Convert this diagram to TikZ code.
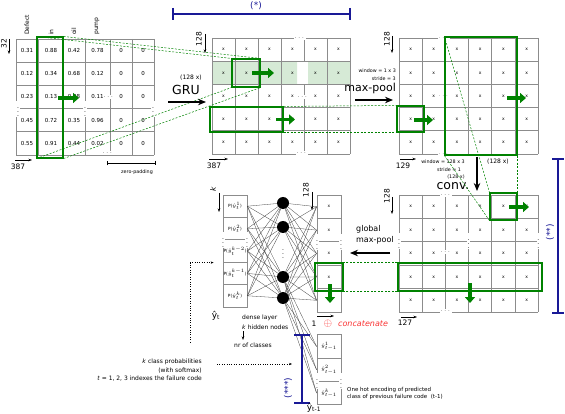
\documentclass[tikz,border=0pt]{standalone}
\usepackage{fontspec}
\setmainfont{DejaVu Sans}
\usepackage{amsmath}
\usetikzlibrary{arrows.meta}
\definecolor{boxgreen}{RGB}{0,130,0}
\definecolor{rowshade}{RGB}{214,234,214}
\definecolor{brkblue}{RGB}{25,25,150}
\definecolor{catred}{RGB}{250,50,50}

\begin{document}
\begin{tikzpicture}[x=1pt,y=-1pt,
  gridline/.style={draw=black!45,line width=0.8pt},
  vcell/.style={draw=black!45,line width=0.8pt,minimum width=24pt,inner sep=0pt,font=\fontsize{4.3}{4.3}\selectfont},
  val/.style={font=\fontsize{5.5}{5.5}\selectfont,inner sep=0pt},
  xcell/.style={font=\fontsize{4.5}{4.5}\selectfont,inner sep=0pt},
  colhead/.style={font=\fontsize{6}{6}\selectfont,rotate=90,anchor=west,inner sep=0pt},
  dimlabel/.style={font=\fontsize{7.5}{7.5}\selectfont,inner sep=0pt},
  dimarrow/.style={-{Stealth[length=3.5pt,width=2.5pt]},line width=0.5pt},
  gapdots/.style={fill=white,inner sep=0.6pt,font=\fontsize{6}{6}\selectfont},
  selbox/.style={draw=boxgreen,line width=1.1pt,inner sep=0pt},
  proj/.style={draw=boxgreen,line width=0.5pt,dash pattern=on 2pt off 1.5pt},
  slide/.style={boxgreen,line width=3.8pt,-{Triangle[length=6pt,width=10pt]}},
  opname/.style={font=\fontsize{12.5}{12.5}\selectfont,inner sep=0pt},
  opnote/.style={font=\fontsize{4.8}{4.8}\selectfont,inner sep=0pt},
  oparrow/.style={line width=1.3pt,-{Stealth[length=8pt,width=6.5pt]}},
  neuron/.style={circle,fill=black,minimum size=12pt,inner sep=0pt},
  wire/.style={line width=0.3pt,black!75},
  bracket/.style={brkblue,line width=1.1pt},
  bracelabel/.style={brkblue,font=\fontsize{9}{9}\selectfont,inner sep=0pt},
  notetext/.style={font=\fontsize{6}{8.5}\selectfont,inner sep=0pt}]
\useasboundingbox (0,0) rectangle (565,414);

% input table
\foreach \y in {39,62.2,85.4,108.6,131.8,155}
  \draw[gridline] (16,\y) -- (154,\y);
\foreach \x in {16,38,63,85,110,132,154}
  \draw[gridline] (\x,39) -- (\x,155);
\foreach \x/\h [count=\i] in {27/Defect,51/in,74/oil,97/pump}
  \node[colhead] (head-\i) at (\x,35) {\h};
\foreach \a/\b/\c/\d [count=\r] in %
{0.31/0.88/0.42/0.78,0.12/0.34/0.68/0.12,0.23/0.13/0.48/0.11,0.45/0.72/0.35/0.96,0.55/0.91/0.44/0.02} {
  \node[val] (in-\r-1) at (27,27.4+23.2*\r) {\a};
  \node[val] (in-\r-2) at (51,27.4+23.2*\r) {\b};
  \node[val] (in-\r-3) at (74,27.4+23.2*\r) {\c};
  \node[val] (in-\r-4) at (97.5,27.4+23.2*\r) {\d};
  \node[val] (in-\r-5) at (121,27.4+23.2*\r) {0};
  \node[val] (in-\r-6) at (143,27.4+23.2*\r) {0};
}
\node[gapdots,inner sep=0.3pt] (in-hd-1) at (109,97) {$\cdots$};
\node[gapdots] (in-hd-2) at (108,153) {$\cdots$};
\foreach \x in {18,85,153}
  \node[gapdots] (in-vd-\x) at (\x,109) {$\vdots$};
\node[selbox,minimum width=26pt,minimum height=121pt] (insel) at (50,97.5) {};
\draw[slide] (58,98) -- (79,98);
\node[dimlabel,rotate=90] (rows-in) at (4,44) {32};
\draw[dimarrow] (9,39) -- (9,54);
\node[dimlabel] (len-in) at (18,167) {387};
\draw[dimarrow] (15,160) -- (32,160);
\draw[line width=0.4pt,|-|] (107,163) -- (155,163);
\node[opnote] (zpad) at (137,172) {zero-padding};

% GRU output
\fill[rowshade] (212,61.2) rectangle (297,84.4) (308,61.2) rectangle (350,84.4);
\foreach \y in {38,61.2,84.4,107.6,130.8,154}
  \draw[gridline] (212,\y) -- (350,\y);
\foreach \x in {212,235,258,281,304,327,350}
  \draw[gridline] (\x,38) -- (\x,154);
\fill[white] (298,62) rectangle (307,83.6);
\foreach \c in {0,...,5}
  \foreach \r in {0,...,4}
    \node[xcell] (gru-\c-\r) at (223.5+23*\c,49.6+23.2*\r) {x};
\node[gapdots] (gru-d1) at (300,38) {$\cdots$};
\node[gapdots] (gru-d2) at (303,97) {$\cdots$};
\node[gapdots] (gru-d3) at (302,153) {$\cdots$};
\node[selbox,minimum width=28pt,minimum height=28pt] (grusel) at (246,73) {};
\node[selbox,minimum width=73pt,minimum height=25pt] (grulow) at (246.5,119.5) {};
\draw[slide] (252,73) -- (274,73);
\draw[slide] (276,119.5) -- (295,119.5);
\draw[proj] (insel.north west) -- (grusel.north west);
\draw[proj] (insel.north east) -- (grusel.north east);
\draw[proj] (insel.south west) -- (grusel.south west);
\draw[proj] (insel.south east) -- (grusel.south east);
\node[dimlabel,rotate=90] (rows-gru) at (199,39) {128};
\draw[dimarrow] (205,34) -- (205,53);
\node[dimlabel] (len-gru) at (214,166) {387};
\draw[dimarrow] (209,159) -- (228,159);
\node[font=\fontsize{6}{6}\selectfont,inner sep=0pt] (gru-units) at (191,78) {(128 x)};
\node[opname] (gru-op) at (186,90) {GRU};
\draw[oparrow] (168,102) -- (206,102);
\draw[bracket] (173,8) -- (173,20) (173,14) -- (350,14) (350,8) -- (350,20);
\node[bracelabel] (star-1) at (256,6) {(*)};

% max-pool output
\node[opnote,anchor=east] (mp-win) at (396,71) {window = 1 x 3};
\node[opnote,anchor=east] (mp-stride) at (396,79) {stride = 3};
\node[opname,anchor=east,font=\fontsize{11}{11}\selectfont] (mp-op) at (396,88) {max-pool};
\draw[oparrow] (355,100) -- (393,100);
\foreach \y in {38,61.2,84.4,107.6,130.8,154}
  \draw[gridline] (399,\y) -- (538.2,\y);
\foreach \i in {0,...,6}
  \draw[gridline] (399+23.2*\i,38) -- (399+23.2*\i,154);
\foreach \c in {0,...,5}
  \foreach \r in {0,...,4}
    \node[xcell] (mp-\c-\r) at (410.6+23.2*\c,49.6+23.2*\r) {x};
\node[gapdots,font=\fontsize{4}{4}\selectfont] (mp-d1) at (444,38) {$\cdots$};
\node[gapdots,font=\fontsize{4}{4}\selectfont] (mp-d2) at (444,96) {$\cdots$};
\node[gapdots,font=\fontsize{4}{4}\selectfont] (mp-d3) at (444,154) {$\cdots$};
\node[selbox,minimum width=72pt,minimum height=118pt] (mptall) at (481,96) {};
\node[selbox,minimum width=27pt,minimum height=26pt] (mpsel) at (410.5,119) {};
\draw[slide] (414,120) -- (433,120);
\draw[slide] (507,98) -- (526,98);
\draw[proj] (grulow.north east) -- (mpsel.north west);
\draw[proj] (grulow.south east) -- (mpsel.south west);
\node[dimlabel,rotate=90] (rows-mp) at (387,39) {128};
\draw[dimarrow] (392,36) -- (392,53);
\node[dimlabel] (len-mp) at (403,166) {129};
\draw[dimarrow] (400,159) -- (416,159);
\node[opnote] (cv-win) at (443,162) {window = 128 x 3};
\node[opnote] (cv-stride) at (449,170) {stride = 1};
\node[opnote] (cv-units) at (456,177) {(128 x)};
\node[font=\fontsize{6}{6}\selectfont,inner sep=0pt] (mp-units) at (498,162) {(128 x)};
\node[opname] (cv-op) at (453,186) {conv.};
\draw[oparrow] (477,157) -- (477,191);

% conv output
\foreach \y in {195,218.4,241.8,265.2,288.6,312}
  \draw[gridline] (399,\y) -- (538.2,\y);
\foreach \i in {0,...,6}
  \draw[gridline] (399+23.2*\i,195) -- (399+23.2*\i,312);
\foreach \c in {0,...,5}
  \foreach \r in {0,...,4}
    \node[xcell] (cv-\c-\r) at (410.6+23.2*\c,206.7+23.4*\r) {x};
\node[gapdots] (cv-d1) at (446,195) {$\cdots$};
\node[gapdots] (cv-d2) at (446,252) {$\cdots$};
\node[gapdots] (cv-d3) at (446,311) {$\cdots$};
\foreach \x in {399,468.6,538.2}
  \node[gapdots] (cv-vd-\x) at (\x,241) {$\vdots$};
\node[selbox,minimum width=27pt,minimum height=27pt] (cvsel) at (503.5,206.5) {};
\node[selbox,minimum width=144pt,minimum height=28pt] (cvrow) at (470,277) {};
\draw[slide] (509,207) -- (529,207);
\draw[slide] (470,283) -- (470,303);
\draw[proj] (mptall.north west) -- (cvsel.north west);
\draw[proj] (mptall.south west) -- (cvsel.south west);
\draw[proj] (mptall.south east) -- (cvsel.north east);
\node[dimlabel,rotate=90] (rows-cv) at (387,196) {128};
\draw[dimarrow] (392,197) -- (392,214);
\node[dimlabel] (len-cv) at (405,323) {127};
\draw[dimarrow] (401,317) -- (417,317);
\node[font=\fontsize{8}{8}\selectfont,anchor=west,inner sep=0pt] (gmp-1) at (356,229) {global};
\node[font=\fontsize{8}{8}\selectfont,anchor=west,inner sep=0pt] (gmp-2) at (356,240) {max-pool};
\draw[oparrow] (390,253) -- (350,253);
\draw[bracket] (552,159) -- (564,159) (558,159) -- (558,313) (552,313) -- (564,313);
\node[bracelabel,rotate=90] (star-2) at (550,232) {(**)};

% concatenated vector
\foreach \r in {1,...,5}
  \node[vcell,minimum height=23.4pt] (cat-\r) at (329,206.7+23.4*\r-23.4) {x};
\node[gapdots] (cat-vd-1) at (317,241.8) {$\vdots$};
\node[gapdots] (cat-vd-2) at (341,241.8) {$\vdots$};
\node[selbox,minimum width=28pt,minimum height=28pt] (catsel) at (329,277) {};
\draw[slide] (330,284) -- (330,303);
\draw[proj] (cvrow.north west) -- (catsel.north east);
\draw[proj] (cvrow.south west) -- (catsel.south east);
\node[dimlabel,rotate=90] (rows-cat) at (306,190) {128};
\draw[dimarrow] (312,192) -- (312,210);
\node[dimlabel] (len-cat) at (314,324) {1};
\draw[dimarrow] (317,316) -- (334,316);
\node[text=catred,font=\fontsize{11}{11}\selectfont,inner sep=0pt] (cat-sym) at (328,324) {$\oplus$};
\node[text=catred,font=\fontsize{8}{8}\selectfont\itshape,anchor=west,inner sep=0pt] (cat-txt) at (338,324) {concatenate};

% dense layer
\foreach \t [count=\r] in {1,2,k-2,k-1,k}
  \node[vcell,minimum height=22.4pt] (prob-\r) at (235,206.2+22.4*\r-22.4) {P($\hat{y}^{\t}_{t}$)};
\node[gapdots] (prob-vd-1) at (223,240) {$\vdots$};
\node[gapdots] (prob-vd-2) at (247,240) {$\vdots$};
\foreach \y [count=\j] in {203,227,277,298}
  \node[neuron] (hid-\j) at (283,\y) {};
\node[inner sep=0pt,font=\fontsize{6}{6}\selectfont] (hid-dots) at (283,251) {$\vdots$};
\foreach \i in {1,...,5}
  \foreach \j in {1,...,4} {
    \draw[wire] (prob-\i.east) -- (hid-\j);
    \draw[wire] (hid-\j) -- (cat-\i.west);
  }
\node[font=\fontsize{7.5}{7.5}\selectfont\itshape,rotate=90,inner sep=0pt] (k-lab) at (213,189) {k};
\draw[dimarrow] (219,193) -- (219,212);
\node[font=\fontsize{9}{9}\selectfont,inner sep=0pt] (yt-lab) at (216,316) {ŷ\textsubscript{t}};
\node[notetext,anchor=west] (dense-1) at (242,318) {dense layer};
\node[notetext,anchor=west] (dense-2) at (242,327) {\textit{k} hidden nodes};
\draw[dimarrow] (243,331) -- (243,340);
\node[notetext,anchor=west] (dense-3) at (234,345) {nr of classes};
\node[notetext,anchor=east,align=right] (prob-note) at (202,370.5) {\textit{k} class probabilities\\(with softmax)\\\textit{t} = 1, 2, 3 indexes the failure code};
\coordinate (note-up) at (190,342);
\draw[dotted,-{Stealth[length=3pt]}] (note-up) |- ([xshift=-9pt]prob-3.south west);
\coordinate (note-right) at (217,364);
\coordinate (note-tip) at (292,364);
\draw[dotted,-{Stealth[length=3pt]}] (note-right) -- (note-tip);

% previous failure code
\foreach \t [count=\r] in {1,2,k}
  \node[vcell,minimum height=23.3pt] (prev-\r) at (329,346.5+23.3*\r-23.3) {$\hat{y}^{\t}_{t-1}$};
\node[gapdots] (prev-vd-1) at (317,381) {$\vdots$};
\node[gapdots] (prev-vd-2) at (341,381) {$\vdots$};
\foreach \j in {3,4}
  \foreach \i in {1,2,3}
    \draw[wire] (hid-\j) -- (prev-\i.west);
\draw[bracket] (294,335) -- (310,335) (302,335) -- (302,403) (294,403) -- (310,403);
\node[bracelabel,rotate=90] (star-3) at (288,388) {(***)};
\node[font=\fontsize{9}{9}\selectfont,inner sep=0pt] (prev-lab) at (314,408) {ŷ\textsubscript{t-1}};
\node[font=\fontsize{5.5}{7.5}\selectfont,anchor=west,align=left,inner sep=0pt] (prev-note) at (347,393.5) {One hot encoding of predicted\\class of previous failure code~~(t-1)};
\end{tikzpicture}
\end{document}
